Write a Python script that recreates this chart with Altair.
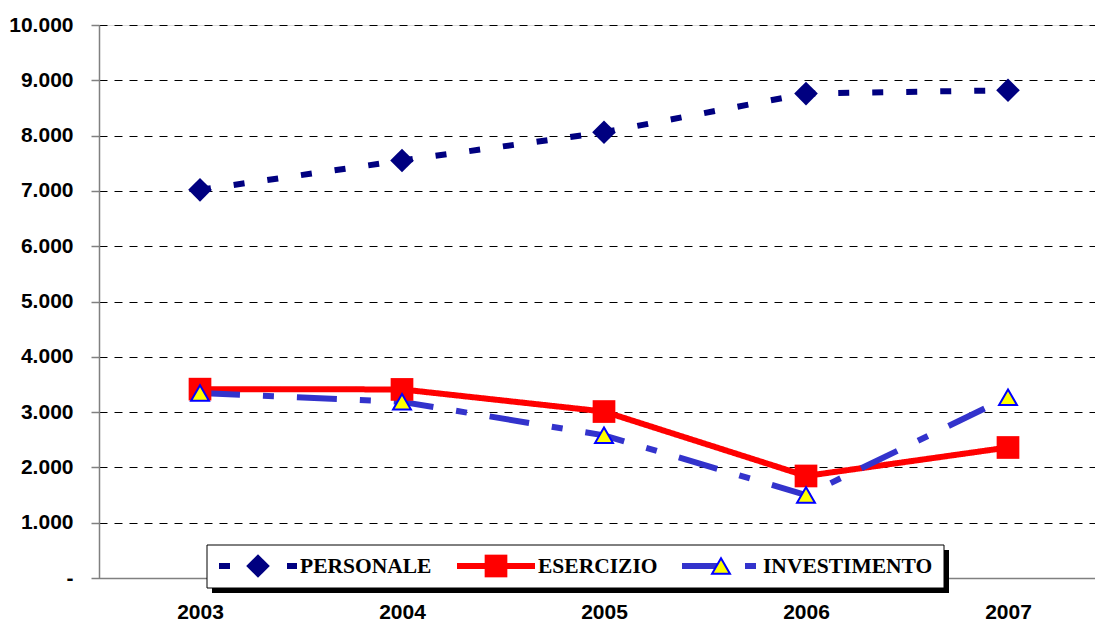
import altair as alt
import pandas as pd

# Spending by category (thousands), 2003-2007
years = [2003, 2004, 2005, 2006, 2007]
personale = [7020, 7550, 8060, 8760, 8820]
esercizio = [3415, 3410, 3010, 1845, 2360]
investimento = [3345, 3185, 2580, 1500, 3270]

series = ["PERSONALE", "ESERCIZIO", "INVESTIMENTO"]
y_ticks = [0, 1000, 2000, 3000, 4000, 5000, 6000, 7000, 8000, 9000, 10000]

df = pd.DataFrame({
    "anno": years * 3,
    "serie": [s for s in series for _ in years],
    "valore": personale + esercizio + investimento,
})

W, H = 996, 553
STEP = 202  # pixels per year
x_dom = [years[0] - 0.5, years[0] - 0.5 + W / STEP]

AXIS_FONT = "Liberation Sans, Arial, sans-serif"
LEG_FONT = "Liberation Serif, Times New Roman, serif"

line_color = {"PERSONALE": "#000080", "ESERCIZIO": "#FF0000", "INVESTIMENTO": "#3333CC"}
line_dash = {"PERSONALE": [11, 23], "ESERCIZIO": [1, 0], "INVESTIMENTO": [40, 23, 11, 23]}
marker = {
    "PERSONALE": dict(shape="diamond", size=560, fill="#000080", stroke="#000080", strokeWidth=0),
    "ESERCIZIO": dict(shape="square", size=515, fill="#FF0000", stroke="#FF0000", strokeWidth=0),
    "INVESTIMENTO": dict(shape="triangle-up", size=320, fill="#FFFF00", stroke="#0000FF", strokeWidth=2),
}

x_enc = alt.X(
    "anno:Q",
    scale=alt.Scale(domain=x_dom, nice=False, zero=False),
    axis=alt.Axis(
        values=years, format="d", title=None, grid=False, ticks=False,
        domainColor="#808080", domainWidth=1.5,
        labelFont=AXIS_FONT, labelFontSize=21, labelFontWeight="bold",
        labelColor="#000000", labelPadding=23, labelFlush=False,
    ),
)
y_enc = alt.Y(
    "valore:Q",
    scale=alt.Scale(domain=[0, 10000], nice=False),
    axis=alt.Axis(
        values=y_ticks, title=None,
        labelExpr="datum.value == 0 ? '-' : replace(format(datum.value, ','), ',', '.')",
        grid=True, gridDash=[8, 7], gridColor="#000000", gridWidth=1,
        domainColor="#808080", domainWidth=1.5,
        tickColor="#808080", tickWidth=1.5, tickSize=8,
        labelFont=AXIS_FONT, labelFontSize=21, labelFontWeight="bold",
        labelColor="#000000", labelPadding=18,
    ),
)

base = alt.Chart(df)

lines = []
points = []
for s in series:
    sub = base.transform_filter(alt.datum.serie == s)
    lines.append(
        sub.mark_line(color=line_color[s], strokeWidth=6, strokeDash=line_dash[s],
                      strokeCap="butt").encode(x=x_enc, y=y_enc)
    )
    points.append(
        sub.mark_point(filled=True, opacity=1, **marker[s]).encode(x=x_enc, y=y_enc)
    )

# Legend box drawn in plot coordinates (origin at the plot's top-left corner)
OX, OY = 99, 25
box_l, box_r, box_t, box_b = 207, 944, 545, 588
leg_y = 566
one = pd.DataFrame({"k": [0]})

legend_layers = [
    alt.Chart(one).mark_rect(color="#000000").encode(
        x=alt.value(box_l + 5 - OX), x2=alt.value(box_r + 5 - OX),
        y=alt.value(box_t + 5 - OY), y2=alt.value(box_b + 5 - OY)),
    alt.Chart(one).mark_rect(fill="#FFFFFF", stroke="#000000", strokeWidth=1).encode(
        x=alt.value(box_l - OX), x2=alt.value(box_r - OX),
        y=alt.value(box_t - OY), y2=alt.value(box_b - OY)),
]
item_x = {"PERSONALE": 219, "ESERCIZIO": 457, "INVESTIMENTO": 682}
for s in series:
    x0 = item_x[s]
    lab = pd.DataFrame({"serie": [s]})
    legend_layers.append(
        alt.Chart(lab).mark_rule(color=line_color[s], strokeWidth=6, strokeDash=line_dash[s],
                                 strokeCap="butt").encode(
            x=alt.value(x0 - OX), x2=alt.value(x0 + 78 - OX), y=alt.value(leg_y - OY))
    )
    legend_layers.append(
        alt.Chart(lab).mark_point(filled=True, opacity=1, **marker[s]).encode(
            x=alt.value(x0 + 39 - OX), y=alt.value(leg_y - OY))
    )
    legend_layers.append(
        alt.Chart(lab).mark_text(align="left", baseline="middle", font=LEG_FONT,
                                 fontSize=21.5, fontWeight="bold", color="#000000").encode(
            x=alt.value(x0 + 81 - OX), y=alt.value(leg_y + 1 - OY), text="serie:N")
    )

chart = alt.layer(*lines, *points, *legend_layers).properties(
    width=W, height=H,
    autosize=alt.AutoSizeParams(type="none"),
    padding={"left": OX, "top": OY, "right": 0, "bottom": 624 - OY - H},
).configure_view(stroke=None).configure(background="#FFFFFF")

chart.save("out.html", embed_options={"renderer": "svg", "actions": False})
